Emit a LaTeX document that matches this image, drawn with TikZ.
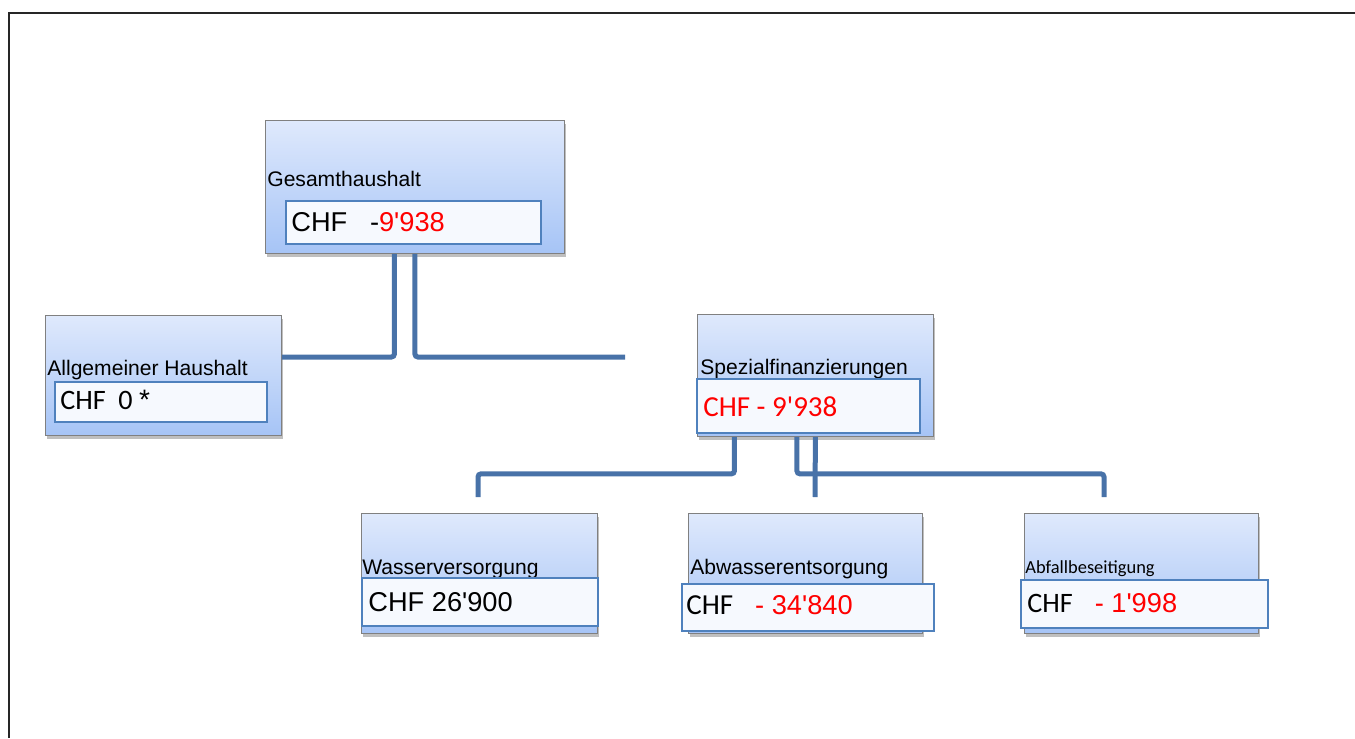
\documentclass[tikz,border=0pt]{standalone}
\usepackage{fontspec}
\setmainfont{Liberation Sans}
\newfontfamily\calibri{Carlito}
\usepackage{xcolor}
\usetikzlibrary{positioning,shadows,calc}
\definecolor{boxtop}{RGB}{223,233,252}
\definecolor{boxbottom}{RGB}{166,196,246}
\definecolor{boxrim}{RGB}{128,128,128}
\definecolor{valuerim}{RGB}{79,129,189}
\definecolor{valuefill}{RGB}{246,249,254}
\definecolor{linkblue}{RGB}{72,114,168}
\newcommand{\apo}{\textquotesingle}

\begin{document}
\begin{tikzpicture}[x=0.02cm, y=-0.02cm,
unitbox/.style={rectangle, draw=boxrim, line width=0.5pt, top color=boxtop, bottom color=boxbottom, anchor=north west, inner sep=0pt, drop shadow={shadow xshift=0.03cm, shadow yshift=-0.07cm, opacity=0.25, fill=black}},
valuebox/.style={rectangle, draw=valuerim, line width=1pt, fill=valuefill, anchor=north west, inner sep=0pt},
unitlabel/.style={anchor=base west, inner sep=0pt, font=\fontsize{12}{14}\selectfont},
unitvalue/.style={anchor=base west, inner sep=0pt, font=\fontsize{15.5}{18}\selectfont},
link/.style={draw=linkblue, line width=0.1cm, rounded corners=0.06cm},
]
\useasboundingbox (0,0) rectangle (1355,738);

%Frame
\draw[line width=0.045cm, black!85] (9,738) -- (9,13) -- (1355,13);

%Nodes
\node[unitbox, minimum width=5.98cm, minimum height=2.66cm] (gesamt) at (265,120) {};
\node[unitlabel] (gesamtlabel) at (267,186) {Gesamthaushalt};
\node[valuebox, minimum width=5.1cm, minimum height=0.86cm] (gesamtvalue) at (285,200) {};
\node[unitvalue] (gesamtchf) at (291,231) {CHF\ \ \ -\textcolor{red}{9\apo938}};

\node[unitbox, minimum width=4.72cm, minimum height=2.4cm] (allg) at (45,315) {};
\node[unitlabel] (allglabel) at (47,375) {Allgemeiner Haushalt};
\node[valuebox, minimum width=4.24cm, minimum height=0.8cm] (allgvalue) at (54,381) {};
\node[unitvalue, font=\calibri\fontsize{16}{19}\selectfont] (allgchf) at (60,409) {CHF\ \ 0\ {\rmfamily *}};

\node[unitbox, minimum width=4.72cm, minimum height=2.44cm] (spez) at (697,314) {};
\node[unitlabel] (spezlabel) at (700,374) {Spezialfinanzierungen};
\node[valuebox, minimum width=4.46cm, minimum height=1.08cm] (spezvalue) at (696,378) {};
\node[unitvalue, font=\calibri\fontsize{16.5}{19}\selectfont, text=red] (spezchf) at (703,416) {CHF - 9\apo938};

\node[unitbox, minimum width=4.72cm, minimum height=2.4cm] (wasser) at (361,513) {};
\node[unitlabel] (wasserlabel) at (362,574) {Wasserversorgung};
\node[valuebox, minimum width=4.72cm, minimum height=0.96cm] (wasservalue) at (361,577) {};
\node[unitvalue] (wasserchf) at (368,611) {CHF 26\apo900};

\node[unitbox, minimum width=4.68cm, minimum height=2.4cm] (abwasser) at (688,513) {};
\node[unitlabel] (abwasserlabel) at (690,574) {Abwasserentsorgung};
\node[valuebox, minimum width=5.04cm, minimum height=0.94cm] (abwasservalue) at (681,583) {};
\node[unitvalue] (abwasserchf) at (686,614) {{\calibri\fontsize{16.5}{19}\selectfont CHF}\hspace{0.44cm}\textcolor{red}{- 34\apo840}};

\node[unitbox, minimum width=4.68cm, minimum height=2.4cm] (abfall) at (1024,513) {};
\node[unitlabel, font=\calibri\fontsize{10.5}{12}\selectfont] (abfalllabel) at (1025,573) {Abfallbeseitigung};
\node[valuebox, minimum width=4.94cm, minimum height=0.96cm] (abfallvalue) at (1020,579) {};
\node[unitvalue] (abfallchf) at (1027,612) {{\calibri\fontsize{16}{19}\selectfont CHF}\hspace{0.44cm}\textcolor{red}{- 1\apo998}};

%Lines
\coordinate (hub) at (625,357);
\coordinate (wasserend) at (478,497);
\coordinate (abwasserend) at (815,497);
\coordinate (abfallend) at (1104,497);
\draw[link] ([xshift=-0.41cm]gesamt.south) |- (allg.east |- hub);
\draw[link] (gesamt.south) |- (hub);
\draw[link] ([xshift=-1.62cm]spez.south) -- ++(0,37) -| (wasserend);
\draw[link] ([xshift=-0.37cm]spez.south) -- ++(0,37) -| (abfallend);
\draw[link] (spez.south) -- (abwasserend);
\end{tikzpicture}
\end{document}
